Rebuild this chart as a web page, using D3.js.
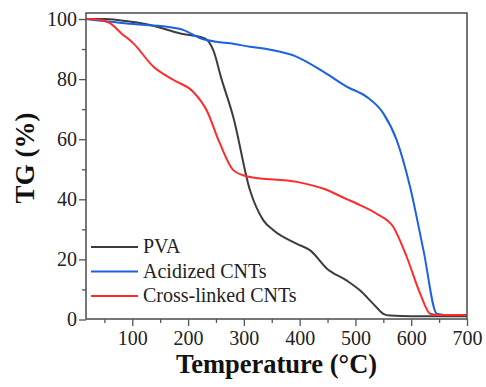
<!DOCTYPE html>
<html lang="en">
<head>
<meta charset="utf-8">
<title>TG curves</title>
<script src="https://cdn.jsdelivr.net/npm/d3@7"></script>
</head>
<body style="margin:0; background:#fff;">
<script>
// data (temperature in degC, weight in %)
var seriesNames = ["PVA", "Acidized CNTs", "Cross-linked CNTs"];
var seriesColors = ["#3c3c3c", "#1a62e0", "#ff2b2b"];

var pvaT = [17, 50, 80, 132, 186, 230, 245, 260, 281, 311, 335, 353, 395, 419, 449, 484, 508, 532, 550, 562, 600, 700];
var pvaV = [100, 100, 99.5, 98, 95.2, 93.5, 89.7, 80, 67.4, 43, 33, 29.7, 25.2, 23, 16.9, 13, 9.7, 5.2, 1.9, 1.3, 1.1, 1.1];

var acidT = [17, 102, 162, 192, 222, 251, 275, 311, 335, 395, 443, 485, 520, 550, 574, 598, 622, 646, 660, 700];
var acidV = [100, 98.3, 97.4, 96.3, 93.6, 92.4, 91.9, 90.8, 90.2, 87.4, 82.4, 77.4, 74.1, 68.6, 59.7, 44.1, 23, 1.9, 1.5, 1.5];

var crossT = [17, 40, 60, 80, 102, 138, 174, 209, 233, 257, 281, 299, 311, 395, 443, 485, 502, 538, 568, 592, 616, 634, 650, 700];
var crossV = [100, 99.8, 98.6, 95.3, 91.9, 84.1, 79.7, 75.8, 69.7, 58.6, 49.7, 48, 47.4, 45.8, 43.5, 40, 38.6, 35.2, 30.8, 20.8, 8.6, 1.9, 1.5, 1.5];

var xTicks = [100, 200, 300, 400, 500, 600, 700];
var yTicks = [0, 20, 40, 60, 80, 100];

var w = 486, h = 387;
var margin = {left: 86, right: 19, top: 13, bottom: 68};
var serif = "Liberation Serif";

var svg = d3.select("body").append("svg")
  .attr("width", w)
  .attr("height", h);

var x = d3.scaleLinear().domain([17, 700]).range([margin.left, w - margin.right]);
var y = d3.scaleLinear().domain([0, 102]).range([h - margin.bottom + 0.5, margin.top]);

var series = [
  {name: seriesNames[0], color: seriesColors[0], t: pvaT, v: pvaV},
  {name: seriesNames[1], color: seriesColors[1], t: acidT, v: acidV},
  {name: seriesNames[2], color: seriesColors[2], t: crossT, v: crossV}
];

// minor ticks
var xMinor = d3.range(50, 700, 100);
var yMinor = d3.range(10, 101, 20);

function styleAxis(g) {
  g.attr("font-family", serif).attr("font-size", 20);
  g.select(".domain").remove();
  g.selectAll("line").attr("stroke", "#555").attr("stroke-width", 1.3);
  g.selectAll("text")
    .attr("font-family", serif)
    .attr("font-size", 20)
    .attr("fill", "#222");
}

svg.append("g")
  .attr("transform", "translate(0," + (h - margin.bottom) + ")")
  .call(d3.axisBottom(x).tickValues(xMinor).tickSize(4).tickFormat(""))
  .call(styleAxis);

svg.append("g")
  .attr("transform", "translate(" + margin.left + ",0)")
  .call(d3.axisLeft(y).tickValues(yMinor).tickSize(4).tickFormat(""))
  .call(styleAxis);

// major axes
svg.append("g")
  .attr("transform", "translate(0," + (h - margin.bottom) + ")")
  .call(d3.axisBottom(x).tickValues(xTicks).tickSize(7).tickPadding(5))
  .call(styleAxis);

svg.append("g")
  .attr("transform", "translate(" + margin.left + ",0)")
  .call(d3.axisLeft(y).tickValues(yTicks).tickSize(7).tickPadding(2))
  .call(styleAxis);

// curves
var line = d3.line()
  .x(function (d) { return x(d[0]); })
  .y(function (d) { return y(d[1]); })
  .curve(d3.curveMonotoneX);

series.forEach(function (s) {
  svg.append("path")
    .datum(d3.zip(s.t, s.v))
    .attr("fill", "none")
    .attr("stroke", s.color)
    .attr("stroke-width", 2)
    .attr("d", line);
});

// frame
svg.append("rect")
  .attr("x", margin.left)
  .attr("y", margin.top)
  .attr("width", w - margin.left - margin.right)
  .attr("height", h - margin.top - margin.bottom)
  .attr("fill", "none")
  .attr("stroke", "#555")
  .attr("stroke-width", 1.6);

// legend
var legend = svg.append("g");
series.forEach(function (s, i) {
  var ly = 247 + i * 24.5;
  legend.append("line")
    .attr("x1", 91).attr("x2", 138)
    .attr("y1", ly).attr("y2", ly)
    .attr("stroke", s.color)
    .attr("stroke-width", 2);
  legend.append("text")
    .attr("x", 143)
    .attr("y", ly + 6)
    .attr("font-family", serif)
    .attr("font-size", 20)
    .attr("fill", "#222")
    .text(s.name);
});

// axis titles
svg.append("text")
  .attr("x", (margin.left + w - margin.right) / 2)
  .attr("y", 373)
  .attr("text-anchor", "middle")
  .attr("font-family", serif)
  .attr("font-size", 26.5)
  .attr("font-weight", "bold")
  .attr("fill", "#111")
  .text("Temperature (°C)");

svg.append("text")
  .attr("transform", "translate(34,158) rotate(-90)")
  .attr("text-anchor", "middle")
  .attr("font-family", serif)
  .attr("font-size", 27)
  .attr("font-weight", "bold")
  .attr("fill", "#111")
  .text("TG (%)");
</script>
</body>
</html>
